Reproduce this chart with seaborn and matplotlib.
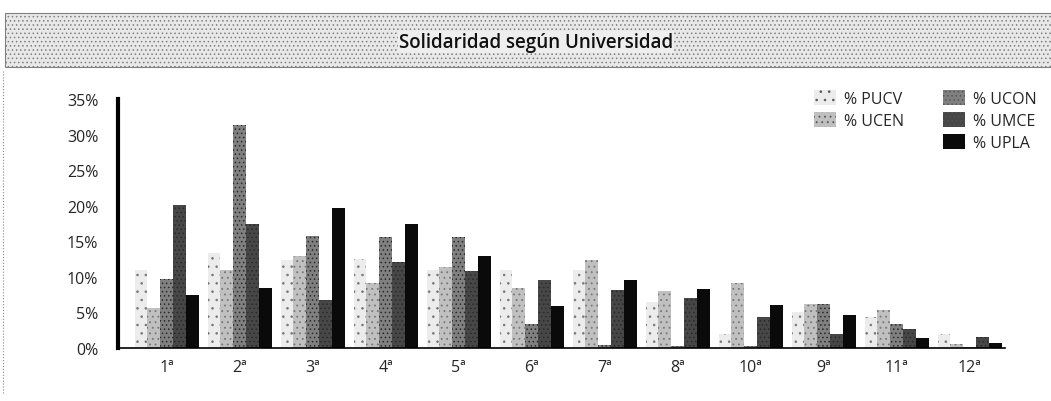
import numpy as np
import pandas as pd
import matplotlib
matplotlib.use("Agg")
import matplotlib.pyplot as plt
from matplotlib.patches import Rectangle, Patch
import seaborn as sns

# datos (porcentajes)
lugares = ["1ª", "2ª", "3ª", "4ª", "5ª", "6ª", "7ª", "8ª", "10ª", "9ª", "11ª", "12ª"]
universidades = ["% PUCV", "% UCEN", "% UCON", "% UMCE", "% UPLA"]

pucv = [10.9, 13.4, 12.4, 12.5, 11.0, 10.9, 10.9, 6.4, 2.0, 5.1, 4.3, 2.0]
ucen = [5.6, 10.9, 13.0, 9.1, 11.4, 8.4, 12.3, 8.0, 9.2, 6.2, 5.3, 0.5]
ucon = [9.7, 31.4, 15.7, 15.6, 15.6, 3.4, 0.4, 0.3, 0.3, 6.2, 3.3, 0.2]
umce = [20.1, 17.5, 6.8, 12.1, 10.8, 9.5, 8.2, 7.0, 4.3, 1.9, 2.7, 1.5]
upla = [7.4, 8.4, 19.7, 17.4, 12.9, 5.9, 9.5, 8.3, 6.0, 4.7, 1.4, 0.7]

colores = ["#ececec", "#c0c0c0", "#808080", "#474747", "#0a0a0a"]
tramas = ["..", "...", "....", "....", ""]

df = pd.DataFrame({
    "lugar": np.tile(lugares, 5),
    "univ": np.repeat(universidades, len(lugares)),
    "valor": pucv + ucen + ucon + umce + upla,
})

sns.set_style("white")
plt.rcParams["font.family"] = ["Open Sans", "DejaVu Sans"]
plt.rcParams["hatch.linewidth"] = 0.6

fig = plt.figure(figsize=(10.51, 4.02), dpi=100)
ax = fig.add_axes([0.112, 0.132, 0.844, 0.619])

sns.barplot(data=df, x="lugar", y="valor", hue="univ", order=lugares,
            hue_order=universidades, palette=colores, width=0.88,
            errorbar=None, legend=False, ax=ax)

# trama tipo impresion para cada serie
n = len(lugares)
for i, p in enumerate(ax.patches[:5 * n]):
    k = i // n
    p.set_hatch(tramas[k])
    p.set_edgecolor("#777777" if k < 2 else "#2a2a2a")
    p.set_linewidth(0)

ax.set_xlim(-0.67, 11.48)
ax.set_ylim(0, 35)
ax.set_yticks(range(0, 36, 5))
ax.set_yticklabels([f"{v}%" for v in range(0, 36, 5)], fontsize=11.5)
ax.tick_params(axis="x", labelsize=11.5, length=0, pad=8)
ax.tick_params(axis="y", length=0, pad=14)
ax.set_xlabel("")
ax.set_ylabel("")
sns.despine(ax=ax)
ax.spines["left"].set_linewidth(3)
ax.spines["bottom"].set_linewidth(1.2)
ax.spines["left"].set_color("black")
ax.spines["bottom"].set_color("black")

# leyenda: dos columnas, la segunda con tres entradas
h = [Patch(facecolor=c, hatch=t, edgecolor="#555555", linewidth=0) for c, t in zip(colores, tramas)]
blank = Patch(facecolor="none", edgecolor="none")
handles = [h[0], h[1], blank, h[2], h[3], h[4]]
labels = ["% PUCV", "% UCEN", "", "% UCON", "% UMCE", "% UPLA"]
fig.legend(handles, labels, ncol=2, loc="upper right", bbox_to_anchor=(1.0, 0.81),
           frameon=False, fontsize=11.5, handlelength=1.4, handleheight=1.1,
           handletextpad=0.5, columnspacing=2.4, labelspacing=0.3)

# banda del titulo
banda = Rectangle((0.005, 0.83), 0.995, 0.135, transform=fig.transFigure,
                  facecolor="#e8e8e8", edgecolor="#808080", hatch="....",
                  linewidth=0.8, zorder=0)
fig.patches.append(banda)
fig.text(0.51, 0.893, "Solidaridad según Universidad", ha="center", va="center",
         fontsize=13.5, fontweight="semibold", color="#111111",
         bbox=dict(facecolor="#eeeeee", edgecolor="none", pad=1))
fig.add_artist(plt.Line2D([0.003, 0.003], [0.02, 0.82], transform=fig.transFigure,
                          color="#888888", linestyle=":", linewidth=0.8))

fig.savefig("out.png", dpi=100)
